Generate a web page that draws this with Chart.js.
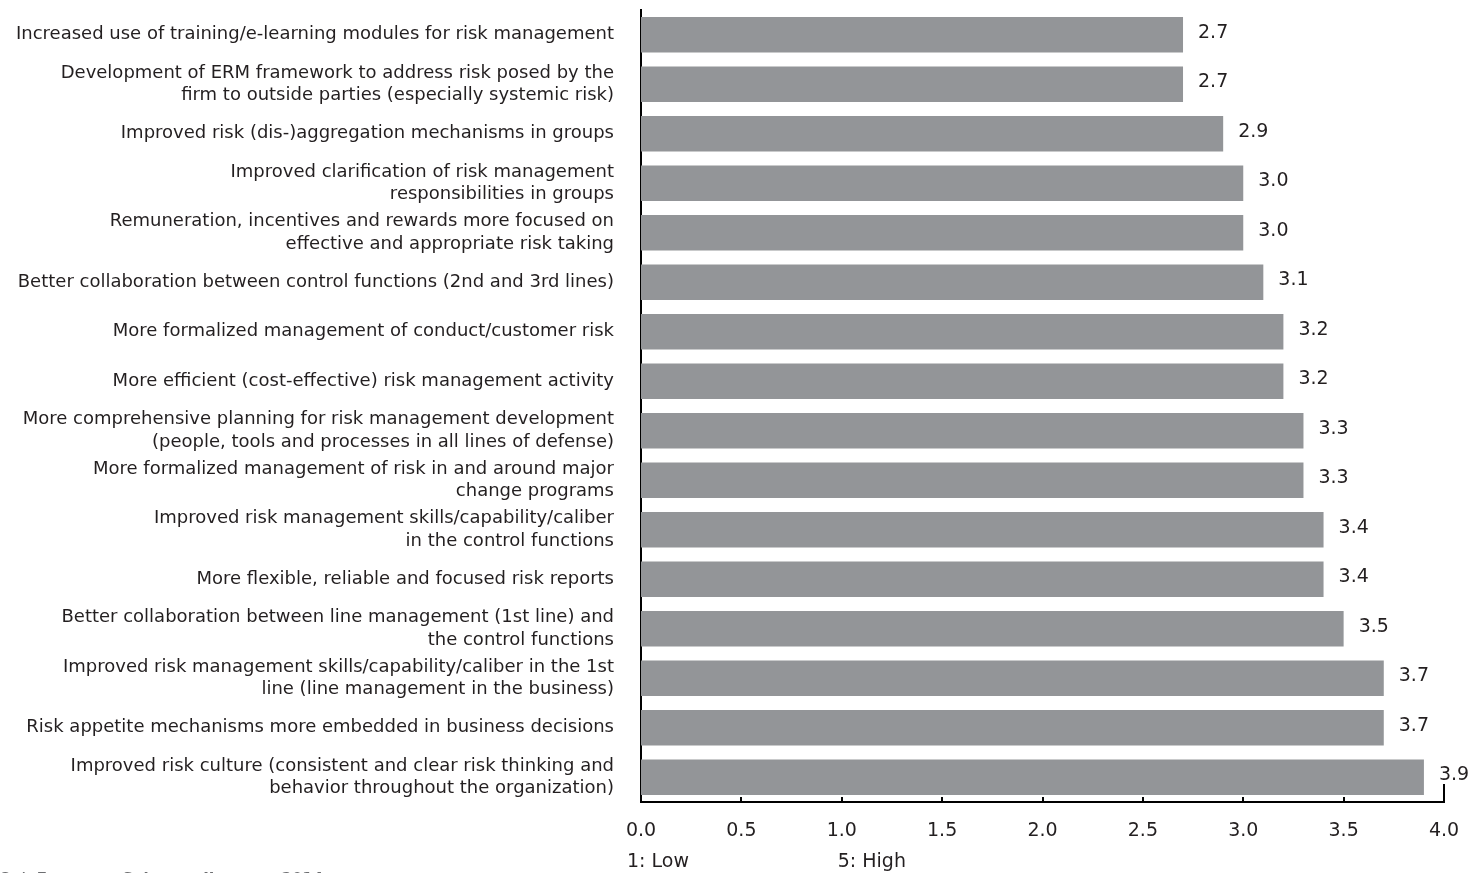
<!DOCTYPE html>
<html lang="en">
<head>
<meta charset="UTF-8">
<title>Risk management priorities</title>
<script src="https://cdn.jsdelivr.net/npm/chart.js"></script>
<style>
    html, body { margin: 0; padding: 0; background: #fff; }
    #wrap { position: relative; width: 1475px; height: 873px; }
</style>
</head>
<body>
<div id="wrap"><canvas id="myChart"></canvas></div>

<script>
// categories, top to bottom
const categories = [
    'Increased use of training/e-learning modules for risk management',
    ['Development of ERM framework to address risk posed by the', 'firm to outside parties (especially systemic risk)'],
    'Improved risk (dis-)aggregation mechanisms in groups',
    ['Improved clarification of risk management', 'responsibilities in groups'],
    ['Remuneration, incentives and rewards more focused on', 'effective and appropriate risk taking'],
    'Better collaboration between control functions (2nd and 3rd lines)',
    'More formalized management of conduct/customer risk',
    'More efficient (cost-effective) risk management activity',
    ['More comprehensive planning for risk management development', '(people, tools and processes in all lines of defense)'],
    ['More formalized management of risk in and around major', 'change programs'],
    ['Improved risk management skills/capability/caliber', 'in the control functions'],
    'More flexible, reliable and focused risk reports',
    ['Better collaboration between line management (1st line) and', 'the control functions'],
    ['Improved risk management skills/capability/caliber in the 1st', 'line (line management in the business)'],
    'Risk appetite mechanisms more embedded in business decisions',
    ['Improved risk culture (consistent and clear risk thinking and', 'behavior throughout the organization)']
];
const scores = [2.7, 2.7, 2.9, 3.0, 3.0, 3.1, 3.2, 3.2, 3.3, 3.3, 3.4, 3.4, 3.5, 3.7, 3.7, 3.9];
const xMin = 0, xMax = 4.0, xStep = 0.5;
const scaleNotes = ['1: Low', '5: High'];
const footer = '8  |  European Solvency II survey 2014';

const FONT = '"DejaVu Sans", sans-serif';

// value labels, inward x ticks, scale notes, footer
const extras = {
    id: 'extras',
    afterDatasetsDraw(chart) {
        const ctx = chart.ctx;
        const bars = chart.getDatasetMeta(0).data;
        ctx.save();
        ctx.font = '19px ' + FONT;
        ctx.fillStyle = '#231f20';
        ctx.textAlign = 'left';
        ctx.textBaseline = 'middle';
        bars.forEach((bar, i) => {
            ctx.fillText(scores[i].toFixed(1), bar.x + 15, bar.y - 2);
        });
        ctx.restore();
    },
    afterDraw(chart) {
        const ctx = chart.ctx;
        const x = chart.scales.x;
        const area = chart.chartArea;
        ctx.save();
        ctx.strokeStyle = '#000';
        ctx.lineWidth = 2;
        for (let v = xMin; v <= xMax + 1e-9; v += xStep) {
            const px = Math.round(x.getPixelForValue(v));
            const len = v >= xMax ? 18 : 5;
            ctx.beginPath();
            ctx.moveTo(px, area.bottom);
            ctx.lineTo(px, area.bottom - len);
            ctx.stroke();
        }
        ctx.font = '19px ' + FONT;
        ctx.fillStyle = '#231f20';
        ctx.textAlign = 'left';
        ctx.textBaseline = 'middle';
        ctx.fillText(scaleNotes[0], area.left - 14, 862);
        ctx.fillText(scaleNotes[1], x.getPixelForValue(0.98), 862);
        ctx.font = 'bold 15px ' + FONT;
        ctx.fillStyle = '#6d6e71';
        ctx.textBaseline = 'alphabetic';
        ctx.fillText(footer, 0, 884);
        ctx.restore();
    }
};

const ctx = document.getElementById('myChart').getContext('2d');
const myChart = new Chart(ctx, {
    type: 'bar',
    data: {
        labels: categories,
        datasets: [{
            data: scores,
            backgroundColor: '#939598',
            borderWidth: 0,
            barPercentage: 0.72,
            categoryPercentage: 1.0
        }]
    },
    options: {
        indexAxis: 'y',
        responsive: true,
        maintainAspectRatio: false,
        animation: false,
        layout: { padding: { top: 10, right: 31, left: 0, bottom: 0 } },
        plugins: {
            legend: { display: false },
            tooltip: { enabled: false }
        },
        scales: {
            x: {
                min: xMin,
                max: xMax,
                grid: { display: false, drawTicks: false },
                border: { display: true, color: '#000', width: 2 },
                ticks: {
                    stepSize: xStep,
                    padding: 18,
                    color: '#231f20',
                    font: { family: FONT, size: 19 },
                    callback: (v) => Number(v).toFixed(1)
                },
                afterFit: (scale) => {
                    scale.height = 71;
                    scale.paddingLeft = 0;
                    scale.paddingRight = 0;
                }
            },
            y: {
                grid: { display: false, drawTicks: false },
                border: { display: true, color: '#000', width: 2 },
                ticks: {
                    padding: 27,
                    color: '#231f20',
                    font: { family: FONT, size: 18, lineHeight: 1.25 },
                    autoSkip: false
                },
                afterFit: (scale) => {
                    scale.width = 641;
                    scale.paddingTop = 0;
                    scale.paddingBottom = 0;
                }
            }
        }
    },
    plugins: [extras]
});
</script>
</body>
</html>
